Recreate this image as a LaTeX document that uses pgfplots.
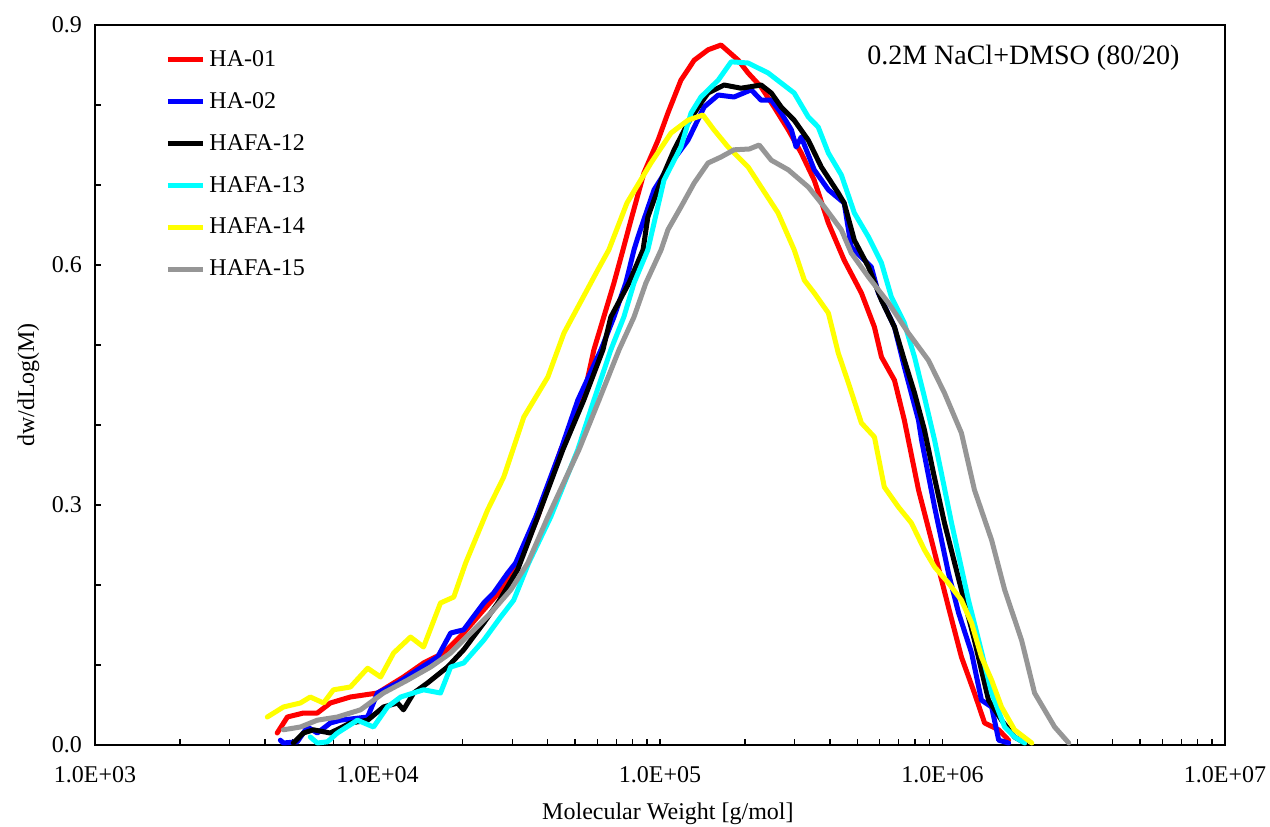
\documentclass[border=0pt]{standalone}
\usepackage{fontspec}
\setmainfont{Liberation Serif}
\usepackage{pgfplots}
\pgfplotsset{compat=1.18}
\definecolor{cgray}{RGB}{150,150,150}
\definecolor{ccyan}{RGB}{0,255,255}
\definecolor{cyel}{RGB}{255,255,0}
\begin{document}
\begin{tikzpicture}
\path[use as bounding box] (-47.5pt,-40.5pt) rectangle (587.5pt,372.5pt);
\begin{axis}[
  at={(0pt,0pt)}, anchor=south west,
  scale only axis, width=565pt, height=360pt,
  xmin=3, xmax=7, ymin=0, ymax=0.9,
  axis line style={line width=0.9pt},
  tick style={line width=0.6pt, black},
  tick align=inside,
  xtick pos=bottom, ytick pos=left,
  major tick length=3.2pt, minor tick length=3.2pt,
  xtick={3,4,5,6,7},
  xticklabels={1.0E+03,1.0E+04,1.0E+05,1.0E+06,1.0E+07},
  minor xtick={3.301,3.477,3.602,3.699,3.778,3.845,3.903,3.954,
               4.301,4.477,4.602,4.699,4.778,4.845,4.903,4.954,
               5.301,5.477,5.602,5.699,5.778,5.845,5.903,5.954,
               6.301,6.477,6.602,6.699,6.778,6.845,6.903,6.954},
  ytick={0,0.3,0.6,0.9},
  yticklabels={0.0,0.3,0.6,0.9},
  minor ytick={0.1,0.2,0.4,0.5,0.7,0.8},
  ticklabel style={font=\fontsize{12pt}{14pt}\selectfont},
  xticklabel style={yshift=-7pt},
  yticklabel style={xshift=-3pt},
  xlabel={Molecular Weight [g/mol]},
  ylabel={dw/dLog(M)},
  label style={font=\fontsize{12pt}{14pt}\selectfont},
  xlabel style={at={(axis description cs:0.507,-0.0955)}, anchor=center},
  ylabel style={at={(axis description cs:-0.059,0.5)}, anchor=center},
  every axis plot/.append style={line width=2.5pt, line join=round, line cap=round},
  legend style={at={(rel axis cs:0.062,0.971)}, anchor=north west, draw=none, fill=none,
    font=\fontsize{12pt}{14pt}\selectfont, row sep=7.5pt, inner sep=0pt},
  legend cell align=left,
  legend image code/.code={\draw[#1, line cap=butt] (0pt,0pt) -- (17.5pt,0pt);},
]
% HA-01
\addplot[red] coordinates {
(3.645,0.015)(3.681,0.035)(3.738,0.040)(3.787,0.040)(3.833,0.0525)(3.904,0.060)
(4.000,0.065)(4.092,0.085)(4.163,0.1025)(4.234,0.115)(4.305,0.140)(4.376,0.169)
(4.447,0.1975)(4.500,0.2275)(4.567,0.285)(4.649,0.369)(4.727,0.431)(4.766,0.494)
(4.801,0.535)(4.837,0.5775)(4.869,0.619)(4.897,0.656)(4.943,0.715)(4.993,0.756)
(5.028,0.790)(5.074,0.831)(5.121,0.856)(5.170,0.869)(5.216,0.875)(5.277,0.856)
(5.312,0.840)(5.358,0.8225)(5.404,0.7975)(5.454,0.769)(5.500,0.740)(5.546,0.706)
(5.596,0.6525)(5.652,0.606)(5.713,0.565)(5.759,0.5225)(5.784,0.485)(5.830,0.456)
(5.865,0.406)(5.915,0.319)(5.961,0.256)(6.021,0.1725)(6.067,0.110)(6.113,0.065)
(6.149,0.0275)(6.199,0.019)(6.234,0.006)};
\addlegendentry{HA-01}
% HA-02
\addplot[blue] coordinates {
(3.656,0.006)(3.667,0.0025)(3.716,0.004)(3.752,0.0225)(3.787,0.015)(3.833,0.0275)
(3.869,0.031)(3.965,0.035)(4.000,0.065)(4.071,0.0775)(4.142,0.094)(4.213,0.110)
(4.259,0.140)(4.305,0.144)(4.376,0.1775)(4.411,0.190)(4.461,0.215)(4.489,0.2275)
(4.560,0.285)(4.649,0.369)(4.709,0.431)(4.791,0.494)(4.837,0.535)(4.879,0.5775)
(4.908,0.619)(4.922,0.635)(4.979,0.694)(5.039,0.7275)(5.099,0.756)(5.156,0.7975)
(5.206,0.8125)(5.262,0.810)(5.323,0.819)(5.358,0.806)(5.394,0.806)(5.429,0.790)
(5.465,0.769)(5.482,0.7475)(5.500,0.760)(5.546,0.719)(5.596,0.694)(5.652,0.6775)
(5.677,0.6225)(5.748,0.5975)(5.773,0.565)(5.830,0.5225)(5.865,0.4725)(5.915,0.406)
(5.926,0.381)(5.972,0.2975)(6.021,0.215)(6.057,0.165)(6.103,0.115)(6.138,0.056)
(6.174,0.0475)(6.199,0.006)(6.234,0.0025)};
\addlegendentry{HA-02}
% HAFA-12
\addplot[black] coordinates {
(3.702,0.0025)(3.738,0.015)(3.773,0.019)(3.833,0.015)(3.904,0.0275)(3.965,0.031)
(4.021,0.0475)(4.071,0.0525)(4.092,0.044)(4.128,0.065)(4.177,0.0775)(4.248,0.0975)
(4.305,0.119)(4.376,0.1525)(4.426,0.1775)(4.496,0.219)(4.567,0.285)(4.656,0.369)
(4.730,0.431)(4.798,0.494)(4.826,0.535)(4.890,0.5775)(4.940,0.619)(4.957,0.660)
(5.004,0.706)(5.050,0.744)(5.099,0.7775)(5.145,0.8025)(5.170,0.815)(5.227,0.825)
(5.287,0.821)(5.358,0.825)(5.394,0.815)(5.429,0.7975)(5.475,0.781)(5.525,0.756)
(5.571,0.7225)(5.631,0.690)(5.652,0.6775)(5.688,0.631)(5.738,0.5975)(5.784,0.556)
(5.830,0.5225)(5.865,0.481)(5.901,0.440)(5.936,0.394)(5.968,0.340)(6.007,0.2775)
(6.067,0.194)(6.113,0.131)(6.163,0.056)(6.209,0.031)(6.255,0.010)(6.291,0.0025)};
\addlegendentry{HAFA-12}
% HAFA-13
\addplot[ccyan] coordinates {
(3.762,0.010)(3.787,0.0025)(3.823,0.004)(3.858,0.015)(3.929,0.031)(3.986,0.0225)
(4.035,0.0475)(4.082,0.060)(4.163,0.069)(4.223,0.065)(4.259,0.0975)(4.305,0.1025)
(4.376,0.131)(4.436,0.160)(4.482,0.181)(4.535,0.2275)(4.613,0.285)(4.709,0.369)
(4.766,0.431)(4.826,0.494)(4.872,0.535)(4.908,0.5775)(4.957,0.619)(5.014,0.706)
(5.074,0.7475)(5.110,0.790)(5.145,0.810)(5.206,0.831)(5.252,0.854)(5.312,0.8525)
(5.383,0.840)(5.429,0.8275)(5.475,0.815)(5.525,0.785)(5.560,0.7725)(5.596,0.740)
(5.642,0.7125)(5.688,0.665)(5.738,0.635)(5.784,0.6025)(5.819,0.560)(5.865,0.5275)
(5.901,0.485)(5.936,0.435)(5.972,0.381)(5.996,0.340)(6.032,0.2775)(6.092,0.181)
(6.128,0.131)(6.174,0.065)(6.220,0.0225)(6.255,0.010)(6.291,0.0025)};
\addlegendentry{HAFA-13}
% HAFA-14
\addplot[cyel] coordinates {
(3.610,0.035)(3.667,0.0475)(3.727,0.0525)(3.762,0.060)(3.809,0.0525)(3.844,0.069)
(3.904,0.0725)(3.965,0.096)(4.011,0.085)(4.057,0.115)(4.117,0.135)(4.163,0.1225)
(4.223,0.1775)(4.270,0.185)(4.312,0.2275)(4.390,0.294)(4.447,0.335)(4.518,0.410)
(4.603,0.460)(4.660,0.515)(4.755,0.5775)(4.780,0.594)(4.819,0.619)(4.883,0.6775)
(4.968,0.7275)(5.039,0.765)(5.099,0.781)(5.152,0.7875)(5.191,0.769)(5.241,0.7475)
(5.312,0.7225)(5.358,0.6975)(5.418,0.665)(5.475,0.619)(5.511,0.581)(5.546,0.565)
(5.596,0.540)(5.631,0.490)(5.667,0.4525)(5.713,0.4025)(5.759,0.385)(5.794,0.3225)
(5.844,0.2975)(5.890,0.2775)(5.936,0.244)(5.972,0.2225)(6.021,0.2025)(6.067,0.181)
(6.103,0.1525)(6.138,0.110)(6.174,0.081)(6.209,0.0475)(6.255,0.019)(6.316,0.0025)};
\addlegendentry{HAFA-14}
% HAFA-15
\addplot[cgray] coordinates {
(3.667,0.019)(3.727,0.0225)(3.787,0.031)(3.858,0.035)(3.940,0.044)(4.021,0.065)
(4.106,0.081)(4.188,0.0975)(4.259,0.115)(4.330,0.140)(4.401,0.165)(4.472,0.194)
(4.532,0.2275)(4.603,0.285)(4.713,0.369)(4.784,0.431)(4.855,0.494)(4.908,0.535)
(4.950,0.5775)(5.004,0.619)(5.028,0.644)(5.074,0.6725)(5.121,0.7025)(5.170,0.7275)
(5.216,0.735)(5.262,0.744)(5.316,0.745)(5.351,0.750)(5.394,0.731)(5.454,0.719)
(5.525,0.6975)(5.582,0.6725)(5.642,0.644)(5.677,0.615)(5.738,0.585)(5.809,0.5525)
(5.879,0.515)(5.950,0.481)(6.007,0.440)(6.067,0.390)(6.113,0.319)(6.174,0.256)
(6.220,0.194)(6.280,0.131)(6.326,0.065)(6.397,0.0225)(6.447,0.0025)};
\addlegendentry{HAFA-15}
\node[anchor=east, inner sep=0pt, font=\fontsize{14pt}{16pt}\selectfont] at (rel axis cs:0.960,0.954) {0.2M NaCl+DMSO (80/20)};
\end{axis}
\end{tikzpicture}
\end{document}
